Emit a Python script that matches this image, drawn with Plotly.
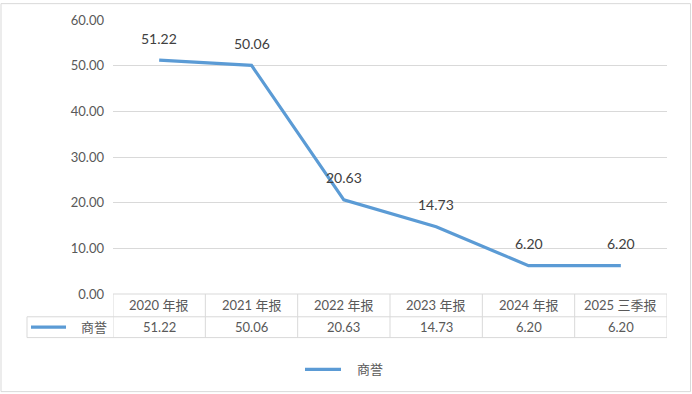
import plotly.graph_objects as go

categories = ["2020 年报", "2021 年报", "2022 年报", "2023 年报", "2024 年报", "2025 三季报"]
goodwill = [51.22, 50.06, 20.63, 14.73, 6.20, 6.20]
series_name = "商誉"
y_ticks = [0, 10, 20, 30, 40, 50, 60]

W, H = 692, 394
L, R, T, B = 113, 25, 17.5, 100
PW, PH = W - L - R, H - T - B

def px_x(p):
    return (p - L) / PW

def px_y(p):
    return (H - B - p) / PH

FONT = "Lato, 'Noto Sans CJK SC', sans-serif"
BLUE = "#5b9bd5"
GRID = "#d9d9d9"
TXT = "#595959"

idx = list(range(len(categories)))
fig = go.Figure()
fig.add_trace(go.Scatter(x=idx, y=goodwill, mode="lines", name=series_name,
                         line=dict(color=BLUE, width=3.2), showlegend=False))

shapes = []
annotations = []

# data labels
for i, v in zip(idx, goodwill):
    annotations.append(dict(x=i, y=v, xref="x", yref="y", text=f"{v:.2f}",
                            showarrow=False, yshift=22,
                            font=dict(family=FONT, size=14, color="#404040")))

# table
hdr_top, hdr_bot, row_bot = 0, px_y(317), px_y(338)
tab_left = px_x(27)
lc = dict(color=GRID, width=1)
shapes.append(dict(type="line", xref="paper", yref="paper", x0=0, x1=1, y0=0, y1=0, line=lc))
shapes.append(dict(type="line", xref="paper", yref="paper", x0=tab_left, x1=1, y0=hdr_bot, y1=hdr_bot, line=lc))
shapes.append(dict(type="line", xref="paper", yref="paper", x0=tab_left, x1=1, y0=row_bot, y1=row_bot, line=lc))
shapes.append(dict(type="line", xref="paper", yref="paper", x0=tab_left, x1=tab_left, y0=hdr_bot, y1=row_bot, line=lc))
for k in range(len(categories) + 1):
    shapes.append(dict(type="line", xref="x", yref="paper", x0=k - 0.5, x1=k - 0.5,
                       y0=0, y1=row_bot, line=lc))
for i, (c, v) in enumerate(zip(categories, goodwill)):
    annotations.append(dict(x=i, y=(hdr_top + hdr_bot) / 2, xref="x", yref="paper", text=c,
                            showarrow=False, yanchor="middle",
                            font=dict(family=FONT, size=13, color=TXT)))
    annotations.append(dict(x=i, y=(hdr_bot + row_bot) / 2, xref="x", yref="paper", text=f"{v:.2f}",
                            showarrow=False, yanchor="middle",
                            font=dict(family=FONT, size=13, color=TXT)))
# legend key in table
ym = px_y(327.5)
shapes.append(dict(type="line", xref="paper", yref="paper", x0=px_x(31), x1=px_x(66), y0=ym, y1=ym,
                   line=dict(color=BLUE, width=3.2)))
annotations.append(dict(x=px_x(109), y=ym, xref="paper", yref="paper", text=series_name,
                        showarrow=False, xanchor="right", yanchor="middle",
                        font=dict(family=FONT, size=13, color=TXT)))

# bottom legend
yl = px_y(370)
shapes.append(dict(type="line", xref="paper", yref="paper", x0=px_x(305), x1=px_x(341), y0=yl, y1=yl,
                   line=dict(color=BLUE, width=3.2)))
annotations.append(dict(x=px_x(355), y=yl, xref="paper", yref="paper", text=series_name,
                        showarrow=False, xanchor="left", yanchor="middle",
                        font=dict(family=FONT, size=13, color=TXT)))

# outer border
shapes.append(dict(type="rect", xref="paper", yref="paper", x0=px_x(1), x1=px_x(690.5),
                   y0=px_y(392.5), y1=px_y(1), line=dict(color=GRID, width=1)))

fig.update_layout(
    width=W, height=H,
    margin=dict(l=L, r=R, t=T, b=B),
    paper_bgcolor="white", plot_bgcolor="white",
    font=dict(family=FONT, color=TXT),
    showlegend=False,
    xaxis=dict(range=[-0.5, len(categories) - 0.5], showticklabels=False, showgrid=False,
               zeroline=False, showline=False, fixedrange=True),
    yaxis=dict(range=[0, 60], tickvals=y_ticks, ticktext=[f"{t:.2f}" for t in y_ticks],
               showgrid=True, gridcolor=GRID, gridwidth=1, zeroline=False, showline=False,
               ticks="", ticklabelstandoff=8, fixedrange=True,
               tickfont=dict(family=FONT, size=13, color=TXT)),
    shapes=shapes, annotations=annotations,
)
fig.write_html(
    "out.html",
    config={"displayModeBar": False, "responsive": False},
    post_script=("document.body.style.margin='0';"
                 "document.documentElement.style.overflow='hidden';"
                 "document.body.style.overflow='hidden';"),
)
